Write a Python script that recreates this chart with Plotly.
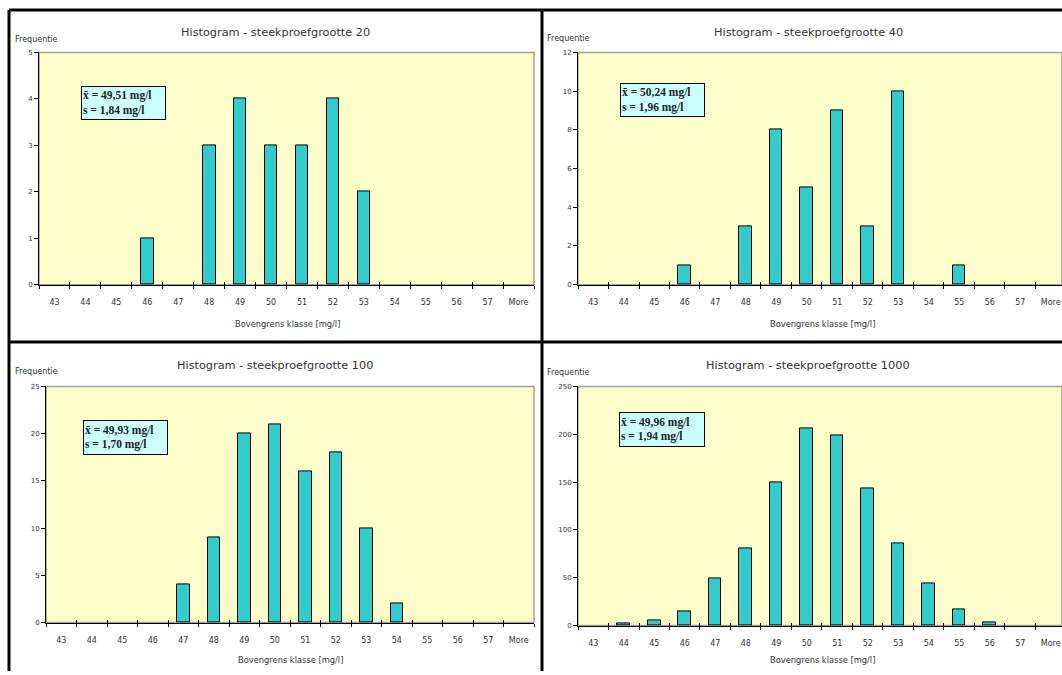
import plotly.graph_objects as go

# ---------------- data ----------------
categories = ["43", "44", "45", "46", "47", "48", "49", "50", "51", "52",
              "53", "54", "55", "56", "57", "More"]
counts_20 = [0, 0, 0, 1, 0, 3, 4, 3, 3, 4, 2, 0, 0, 0, 0, 0]
counts_40 = [0, 0, 0, 1, 0, 3, 8, 5, 9, 3, 10, 0, 1, 0, 0, 0]
counts_100 = [0, 0, 0, 0, 4, 9, 20, 21, 16, 18, 10, 2, 0, 0, 0, 0]
counts_1000 = [0, 2, 5, 15, 49, 81, 150, 206, 199, 143, 86, 44, 17, 3, 0, 0]
sample_sizes = [20, 40, 100, 1000]
means = ["49,51", "50,24", "49,93", "49,96"]
stdevs = ["1,84", "1,96", "1,70", "1,94"]
y_max = [5, 12, 25, 250]
y_step = [1, 2, 5, 50]
y_label = "Frequentie"
x_label = "Bovengrens klasse [mg/l]"
title_prefix = "Histogram - steekproefgrootte "

all_counts = [counts_20, counts_40, counts_100, counts_1000]

# ---------------- layout geometry (pixels) ----------------
W, H = 1062, 675
def fx(p):
    return p / W
def fy(p):
    return 1 - p / H

panels = [
    dict(px=(39, 534), py=(49, 284), rr=15.5, box=(81, 166, 83, 117),
         title=(275, 29), freq=(36, 36), xt=(287, 324)),
    dict(px=(578, 1062), py=(49, 284), rr=15.37, box=(620, 705, 80, 114),
         title=(808, 29), freq=(568, 35), xt=(822, 324)),
    dict(px=(46, 534), py=(387, 626), rr=15.5, box=(83, 168, 421, 456),
         title=(275, 366), freq=(36, 372), xt=(290, 664)),
    dict(px=(578, 1062), py=(387, 629), rr=15.37, box=(619, 705, 413, 448),
         title=(808, 366), freq=(568, 373), xt=(822, 664)),
]

FONT = "DejaVu Sans"
TXT = "#333333"
BAR = "#33CCCC"

positions = list(range(len(categories)))
boundaries = [p - 0.5 for p in positions] + [positions[-1] + 0.5]

fig = go.Figure()
layout = dict(
    width=W, height=H, margin=dict(l=0, r=0, t=0, b=0),
    paper_bgcolor="white", plot_bgcolor="#FFFFCC",
    showlegend=False, bargap=0,
    font=dict(family=FONT, color=TXT, size=8),
)
annotations = []
shapes = []

for i, (pan, counts) in enumerate(zip(panels, all_counts)):
    k = i + 1
    xs = "" if k == 1 else str(k)
    ov = str(k + 4)
    fig.add_trace(go.Bar(
        x=positions, y=[c if c else None for c in counts], width=0.41,
        marker=dict(color=BAR, line=dict(color="black", width=1)),
        xaxis="x" + xs, yaxis="y" + xs, hoverinfo="y",
    ))
    fig.add_trace(go.Scatter(x=[], y=[], xaxis="x" + ov, yaxis="y" + xs,
                             hoverinfo="skip"))
    rng = [-0.5, pan["rr"]]
    layout["xaxis" + xs] = dict(
        domain=[fx(pan["px"][0]), fx(pan["px"][1])], range=rng,
        anchor="y" + xs, tickmode="array", tickvals=positions,
        ticktext=categories, ticks="", showgrid=False, zeroline=False,
        showline=True, linecolor="black", linewidth=1,
        tickfont=dict(size=8, color=TXT), ticklabelstandoff=10,
        minor=dict(tickmode="array", tickvals=boundaries, ticks="outside",
                   ticklen=3, tickcolor="black", tickwidth=1),
        fixedrange=True,
    )
    layout["xaxis" + ov] = dict(
        overlaying="x" + xs, anchor="y" + xs, range=rng,
        tickmode="array", tickvals=boundaries, ticks="inside", ticklen=3,
        tickcolor="black", tickwidth=1, showticklabels=False,
        showgrid=False, zeroline=False, showline=False, fixedrange=True,
    )
    layout["yaxis" + xs] = dict(
        domain=[fy(pan["py"][1]), fy(pan["py"][0])], range=[0, y_max[i]],
        anchor="x" + xs, dtick=y_step[i], tick0=0, ticks="outside",
        ticklen=4, tickcolor="black", showgrid=False, zeroline=False,
        showline=True, linecolor="black", linewidth=1,
        tickfont=dict(size=7, color=TXT), fixedrange=True,
    )
    # plot area border (gray top/right)
    shapes.append(dict(type="rect", xref="x" + xs + " domain",
                       yref="y" + xs + " domain", x0=0, x1=1, y0=0, y1=1,
                       line=dict(color="#A0A0A0", width=1.5), layer="below"))
    annotations.append(dict(text=title_prefix + str(sample_sizes[i]),
                            xref="paper", yref="paper",
                            x=fx(pan["title"][0]), y=fy(pan["title"][1]),
                            xanchor="center", yanchor="middle", showarrow=False,
                            font=dict(size=11.3, color=TXT, family=FONT)))
    annotations.append(dict(text=y_label, xref="paper", yref="paper",
                            x=fx(pan["freq"][0]), y=fy(pan["freq"][1]),
                            xanchor="center", yanchor="middle", showarrow=False,
                            font=dict(size=8, color=TXT, family=FONT)))
    annotations.append(dict(text=x_label, xref="paper", yref="paper",
                            x=fx(pan["xt"][0]), y=fy(pan["xt"][1]),
                            xanchor="center", yanchor="middle", showarrow=False,
                            font=dict(size=8.3, color=TXT, family=FONT)))
    bx0, bx1, by0, by1 = pan["box"]
    annotations.append(dict(
        text="<b>x\u0304 = " + means[i] + " mg/l</b><br><b>s = " + stdevs[i] + " mg/l</b>",
        xref="paper", yref="paper", x=fx(bx0), y=fy(by0),
        xanchor="left", yanchor="top", showarrow=False, align="left",
        valign="middle", width=bx1 - bx0 - 4, height=by1 - by0 - 4,
        bgcolor="#CCFFFF", bordercolor="black", borderwidth=1, borderpad=1,
        font=dict(size=11.5, color="#222222", family="Liberation Serif"),
    ))

# outer frame / dividers
frame = dict(color="black", width=3)
shapes += [
    dict(type="line", xref="paper", yref="paper", x0=fx(9), x1=1, y0=fy(6), y1=fy(6), line=frame),
    dict(type="line", xref="paper", yref="paper", x0=fx(9), x1=fx(9), y0=fy(6), y1=0, line=frame),
    dict(type="line", xref="paper", yref="paper", x0=fx(542), x1=fx(542), y0=fy(6), y1=0, line=frame),
    dict(type="line", xref="paper", yref="paper", x0=fx(9), x1=1, y0=fy(342), y1=fy(342), line=frame),
]

layout["annotations"] = annotations
layout["shapes"] = shapes
fig.update_layout(**layout)
fig.write_html(
    "out.html",
    config={"displayModeBar": False},
    post_script="document.body.style.margin='0';document.body.style.overflow='hidden';",
)
